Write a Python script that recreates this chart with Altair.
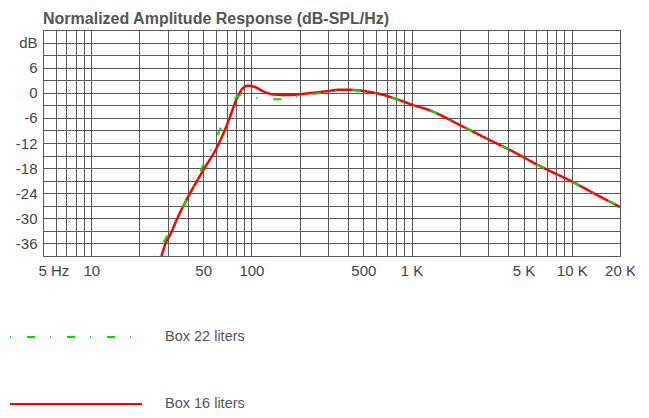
import json
import altair as alt
import pandas as pd

# ---- data ----
FREQ_22 = [25.0, 29.6, 33.6, 38.8, 44.4, 49.6, 56, 63.4, 71.4, 78, 86, 95, 105, 125, 142, 165, 190,
           245, 330, 400, 506, 613, 817, 1000, 1320, 2000, 3000, 4377, 6100, 10000, 14500, 20000]
DB_22 = [-39.2, -34.4, -30.5, -26.1, -21.7, -17.6, -13.5, -8.9, -4.5, -1.6, -0.6, -0.8, -1.15, -1.5, -1.55, -1.3, -0.95,
         -0.3, 0.5, 0.7, 0.4, -0.15, -1.6, -2.8, -4.3, -7.7, -11.1, -14.2, -17.2, -21.2, -24.5, -27.3]

FREQ_16 = [27.4, 29.1, 31.3, 34.5, 41.4, 51, 61, 71, 82, 88, 95, 104, 120, 138, 168, 224, 300, 362, 417,
           506, 613, 817, 1000, 1320, 2000, 3000, 4377, 6100, 10000, 14500, 20000]
DB_16 = [-39.2, -36, -33.7, -30, -24, -18, -13, -7.3, -1.0, 1.0, 1.7, 1.45, 0.25, -0.4, -0.55, -0.15, 0.4, 0.75, 0.7,
         0.4, -0.15, -1.6, -2.8, -4.3, -7.7, -11.1, -14.2, -17.2, -21.2, -24.5, -27.3]

SERIES = ["Box 22 liters", "Box 16 liters"]
COLORS = ["#00dd00", "#ff0000"]
DASHES = [[1, 16, 8, 15], [1, 0]]

X_GRID = [5, 6, 7, 8, 9] + [m * 10 ** e for e in (1, 2, 3) for m in range(1, 10)] + [10000, 20000]
X_LABEL_VALUES = [5, 10, 50, 100, 500, 1000, 5000, 10000, 20000]
X_LABELS = ["5 Hz", "10", "50", "100", "500", "1 K", "5 K", "10 K", "20 K"]
Y_GRID = list(range(-39, 16, 3))
Y_LABEL_VALUES = [12, 6, 0, -6, -12, -18, -24, -30, -36]
Y_LABELS = ["dB", "6", "0", "-6", "-12", "-18", "-24", "-30", "-36"]

TITLE = "Normalized Amplitude Response (dB-SPL/Hz)"
FONT = "Liberation Sans"
GRID = "#5a5a5a"

df = pd.concat([
    pd.DataFrame({"freq": FREQ_22, "db": DB_22, "series": SERIES[0]}),
    pd.DataFrame({"freq": FREQ_16, "db": DB_16, "series": SERIES[1]}),
])

x_expr = (f"indexof({json.dumps(X_LABEL_VALUES)}, datum.value) >= 0 ? "
          f"{json.dumps(X_LABELS)}[indexof({json.dumps(X_LABEL_VALUES)}, datum.value)] : ''")
y_expr = (f"indexof({json.dumps(Y_LABEL_VALUES)}, datum.value) >= 0 ? "
          f"{json.dumps(Y_LABELS)}[indexof({json.dumps(Y_LABEL_VALUES)}, datum.value)] : ''")

common_axis = dict(
    title=None, grid=True, gridColor=GRID, gridOpacity=1, gridWidth=1,
    domain=False, ticks=False, labelFont=FONT, labelFontSize=15,
    labelColor="#444444", labelOverlap=False, labelFlush=False, labelBound=False,
)

x_enc = alt.X(
    "freq:Q",
    scale=alt.Scale(type="log", domain=[5, 20000], nice=False),
    axis=alt.Axis(
        values=X_GRID, labelExpr=x_expr, labelPadding=7,
        labelAlign={"condition": {"test": "datum.value == 5", "value": "left"}, "value": "center"},
        labelOffset={"condition": {"test": "datum.value == 5", "value": -5}, "value": 0},
        **common_axis,
    ),
)
y_enc = alt.Y(
    "db:Q",
    scale=alt.Scale(domain=[-39, 15], nice=False, zero=False),
    axis=alt.Axis(values=Y_GRID, labelExpr=y_expr, labelPadding=6, **common_axis),
)

legend = alt.Legend(
    orient="none", legendX=-34, legendY=299, direction="vertical", title=None,
    symbolType="stroke", symbolSize=17424, symbolStrokeWidth=2, clipHeight=16,
    rowPadding=51, labelOffset=22, labelFont=FONT, labelFontSize=14.5,
    labelColor="#555555", labelLimit=300, padding=0, symbolOffset=0,
)
color_enc = alt.Color("series:N", scale=alt.Scale(domain=SERIES, range=COLORS), legend=legend)
dash_enc = alt.StrokeDash("series:N", scale=alt.Scale(domain=SERIES, range=DASHES), legend=legend)

base = alt.Chart(df)
red = base.transform_filter(alt.datum.series == SERIES[1]).mark_line(
    strokeWidth=2.5, clip=True, interpolate="monotone"
).encode(x=x_enc, y=y_enc, color=color_enc, strokeDash=dash_enc)
green = base.transform_filter(alt.datum.series == SERIES[0]).mark_line(
    strokeWidth=2, clip=True, interpolate="monotone"
).encode(x=x_enc, y=y_enc, color=color_enc, strokeDash=dash_enc)

chart = alt.layer(red, green).properties(
    width=577, height=226,
    background="white",
    autosize=alt.AutoSizeParams(type="none"),
    padding={"left": 35, "top": 22, "right": 15, "bottom": 158},
    title=alt.TitleParams(
        TITLE, anchor="start", frame="group", font=FONT, fontSize=16,
        fontWeight="bold", color="#555555", offset=-4,
    ),
).configure_view(
    stroke=GRID, strokeWidth=1
)

chart.save("out.html", embed_options={"renderer": "svg", "actions": False})
